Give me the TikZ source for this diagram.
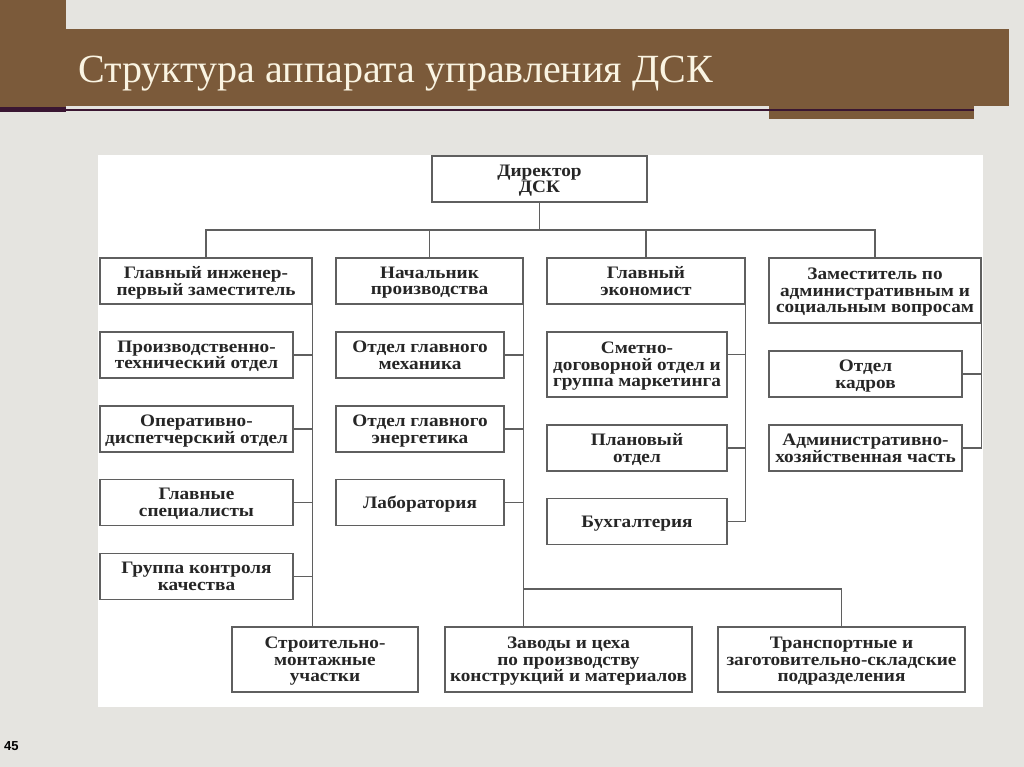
\documentclass[tikz,border=0pt]{standalone}
\usepackage{fontspec}
\setmainfont{Liberation Serif}
\setsansfont{Liberation Sans}
\newfontfamily\unitfont[FakeStretch=1.1]{Liberation Serif}
\newcommand{\unitsize}{\fontsize{17.5}{16.5}\selectfont\setlength{\lineskiplimit}{-20pt}}
\usepackage{tikz}
\usetikzlibrary{calc,positioning}

\definecolor{pagegray}{RGB}{229,228,224}
\definecolor{bandbrown}{RGB}{123,90,58}
\definecolor{rulepurple}{RGB}{58,22,50}
\definecolor{titlecream}{RGB}{250,244,226}
\definecolor{linegray}{RGB}{95,95,95}

\tikzset{
    unit/.style={draw=linegray, line width=1.2pt, fill=white, align=center, inner sep=0pt,
        text depth=0pt, text=black!85, font=\unitfont\bfseries\unitsize},
    link/.style={draw=linegray, line width=1.2pt},
}

\begin{document}
\begin{tikzpicture}[x=1pt,y=-1pt]
    \useasboundingbox (0,0) rectangle (1024,767);
    \fill[pagegray] (0,0) rectangle (1024,767);
    \fill[bandbrown] (0,0) rectangle (66,108);
    \fill[bandbrown] (66,29) rectangle (1009,106);
    \fill[bandbrown] (769,106) rectangle (974,119);
    \fill[rulepurple] (0,107) rectangle (66,112);
    \draw[rulepurple, line width=2.2pt] (66,110) -- (974,110);
    \node[anchor=base west, text=titlecream, inner sep=0pt,
        font=\fontsize{40}{40}\selectfont] (title) at (78,83) {Структура аппарата управления ДСК};
    \fill[white] (98,155) rectangle (983,707);

    \node[unit, minimum width=215, minimum height=46] (dir) at (539.5,179) {Директор\\ДСК};

    \node[unit, minimum width=212, minimum height=46] (gi) at (206,281) {Главный инженер-\\первый заместитель};
    \node[unit, minimum width=187, minimum height=46] (np) at (429.5,281) {Начальник\\производства};
    \node[unit, minimum width=198, minimum height=46] (ge) at (646,281) {Главный\\экономист};
    \node[unit, minimum width=212, minimum height=65] (zam) at (875,290.5) {Заместитель по\\административным и\\социальным вопросам};

    \node[unit, minimum width=193, minimum height=46] (pto) at (196.5,355) {Производственно-\\технический отдел};
    \node[unit, minimum width=193, minimum height=46] (odo) at (196.5,429) {Оперативно-\\диспетчерский отдел};
    \node[unit, minimum width=193, minimum height=46] (gs) at (196.5,502.5) {Главные\\специалисты};
    \node[unit, minimum width=193, minimum height=46] (gkk) at (196.5,576.5) {Группа контроля\\качества};

    \node[unit, minimum width=168, minimum height=46] (ogm) at (420,355) {Отдел главного\\механика};
    \node[unit, minimum width=168, minimum height=46] (oge) at (420,429) {Отдел главного\\энергетика};
    \node[unit, minimum width=168, minimum height=46] (lab) at (420,502.5) {Лаборатория};

    \node[unit, minimum width=180, minimum height=65] (sdo) at (637,364.5) {Сметно-\\договорной отдел и\\группа маркетинга};
    \node[unit, minimum width=180, minimum height=46] (plan) at (637,448) {Плановый\\отдел};
    \node[unit, minimum width=180, minimum height=46] (buh) at (637,521.5) {Бухгалтерия};

    \node[unit, minimum width=193, minimum height=46] (kadr) at (865.5,374) {Отдел\\кадров};
    \node[unit, minimum width=193, minimum height=46] (ahc) at (865.5,448) {Административно-\\хозяйственная часть};

    \node[unit, minimum width=186, minimum height=65] (smu) at (325,659.5) {Строительно-\\монтажные\\участки};
    \node[unit, minimum width=247, minimum height=65] (zav) at (568.5,659.5) {Заводы и цеха\\по производству\\конструкций и материалов};
    \node[unit, minimum width=247, minimum height=65] (tra) at (841.5,659.5) {Транспортные и\\заготовительно-складские\\подразделения};

    \coordinate (bus) at (dir.south |- 0,230);
    \coordinate (fork) at (np.east |- 0,589);
    \draw[link] (dir.south) -- (bus);
    \draw[link] (gi.north) |- (bus) -| (zam.north);
    \draw[link] (np.north) -- (np.north |- bus);
    \draw[link] (ge.north) -- (ge.north |- bus);

    \draw[link] (gi.south east) -- (gi.south east |- smu.north);
    \foreach \u in {pto,odo,gs,gkk}
        \draw[link] (\u.east) -- (\u.east -| gi.east);
    \draw[link] (np.south east) -- (np.south east |- zav.north);
    \foreach \u in {ogm,oge,lab}
        \draw[link] (\u.east) -- (\u.east -| np.east);
    \draw[link] (fork) -| (tra.north);
    \draw[link] (ge.south east) -- (ge.south east |- buh.east);
    \foreach \u in {plan,buh}
        \draw[link] (\u.east) -- (\u.east -| ge.east);
    \draw[link] ([yshift=10pt]sdo.east) -- ([yshift=10pt]sdo.east -| ge.east);
    \draw[link] (zam.south east) -- (zam.south east |- ahc.east);
    \foreach \u in {kadr,ahc}
        \draw[link] (\u.east) -- (\u.east -| zam.east);

    \node[anchor=west, inner sep=0pt, font=\sffamily\bfseries\fontsize{13}{13}\selectfont] (page) at (4,746) {45};
\end{tikzpicture}
\end{document}
